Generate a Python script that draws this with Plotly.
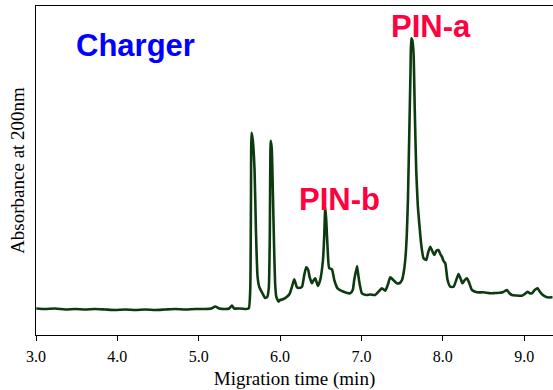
import plotly.graph_objects as go

# Electropherogram of the "Charger" sample: migration time (min) vs absorbance (mAU, 200 nm)
migration_time = [
    3.003, 3.114, 3.237, 3.359, 3.482, 3.605, 3.728, 3.851, 3.974, 4.097,
    4.220, 4.343, 4.466, 4.588, 4.711, 4.834, 4.957, 5.080, 5.154, 5.203,
    5.252, 5.326, 5.375, 5.408, 5.437, 5.510, 5.584, 5.615, 5.633, 5.642,
    5.649, 5.664, 5.686, 5.703, 5.723, 5.744, 5.781, 5.817, 5.842, 5.861,
    5.873, 5.885, 5.897, 5.916, 5.928, 5.940, 5.953, 5.981, 6.002, 6.035,
    6.084, 6.116, 6.146, 6.174, 6.207, 6.235, 6.269, 6.297, 6.321, 6.346,
    6.362, 6.391, 6.414, 6.432, 6.465, 6.493, 6.527, 6.543, 6.555, 6.567,
    6.583, 6.604, 6.637, 6.666, 6.706, 6.780, 6.862, 6.893, 6.911, 6.945,
    6.961, 6.976, 7.006, 7.059, 7.108, 7.169, 7.206, 7.252, 7.292, 7.323,
    7.354, 7.391, 7.436, 7.471, 7.498, 7.520, 7.538, 7.557, 7.571, 7.591,
    7.603, 7.612, 7.624, 7.640, 7.655, 7.673, 7.692, 7.714, 7.735, 7.763,
    7.796, 7.821, 7.845, 7.870, 7.895, 7.919, 7.947, 7.968, 7.989, 8.009,
    8.030, 8.058, 8.091, 8.132, 8.165, 8.193, 8.220, 8.242, 8.269, 8.296,
    8.325, 8.358, 8.419, 8.500, 8.583, 8.644, 8.706, 8.743, 8.788, 8.816,
    8.849, 8.902, 8.972, 9.007, 9.041, 9.068, 9.095, 9.130, 9.164, 9.191,
    9.218, 9.280, 9.348,
]
absorbance = [
    2.45, 2.40, 2.45, 2.35, 2.40, 2.35, 2.40, 2.35, 2.30, 2.35,
    2.30, 2.35, 2.30, 2.35, 2.40, 2.35, 2.40, 2.40, 2.45, 2.65,
    2.45, 2.40, 2.45, 2.75, 2.45, 2.45, 2.40, 2.45, 4.30, 13.30,
    20.03, 19.30, 16.30, 10.30, 5.63, 4.60, 4.00, 3.50, 3.60, 4.50,
    9.30, 19.23, 18.50, 12.30, 8.00, 4.80, 3.63, 3.13, 3.30, 3.37,
    3.63, 3.90, 4.63, 5.37, 4.57, 4.50, 4.63, 5.80, 6.57, 6.30,
    5.63, 4.97, 5.30, 5.47, 4.70, 5.30, 7.30, 9.80, 12.63, 11.30,
    8.63, 6.47, 6.37, 5.30, 4.47, 4.13, 3.97, 4.30, 5.30, 6.70,
    5.80, 4.97, 3.97, 3.80, 3.85, 3.80, 4.10, 4.47, 4.23, 4.80,
    5.57, 5.30, 4.97, 5.00, 5.30, 6.10, 7.30, 9.80, 13.30, 21.30,
    26.30, 29.47, 29.30, 27.97, 22.30, 16.30, 12.80, 10.63, 8.80, 7.47,
    7.30, 8.10, 8.63, 8.20, 7.80, 8.20, 8.30, 7.90, 7.63, 7.20,
    6.97, 5.30, 4.63, 4.63, 5.30, 5.90, 5.40, 4.97, 5.30, 5.47,
    5.00, 4.30, 4.07, 4.07, 3.97, 4.00, 4.03, 4.10, 4.30, 4.00,
    3.80, 3.75, 3.73, 3.90, 4.13, 3.97, 3.97, 4.30, 4.47, 4.15,
    3.87, 3.57, 3.57,
]

tick_values = [3.0, 4.0, 5.0, 6.0, 7.0, 8.0, 9.0]
tick_labels = ["3.0", "4.0", "5.0", "6.0", "7.0", "8.0", "9.0"]

# Peak labels: (text, time, absorbance, colour)
peak_labels = [
    ("Charger", 4.220, 28.8, "#0000ff"),
    ("PIN-a", 7.858, 30.65, "#ff0040"),
    ("PIN-b", 6.727, 13.4, "#ff0040"),
]

fig = go.Figure()
fig.add_trace(go.Scatter(
    x=migration_time,
    y=absorbance,
    mode="lines",
    line=dict(color="#0d3a0f", width=2.6, shape="spline", smoothing=0.5),
    hoverinfo="x+y",
    showlegend=False,
))

for text, tx, ty, color in peak_labels:
    fig.add_annotation(
        x=tx, y=ty, xref="x", yref="y",
        text=f"<b>{text}</b>",
        showarrow=False,
        font=dict(family="Liberation Sans, Arial, sans-serif", size=31, color=color),
        xanchor="center", yanchor="middle",
    )

serif = "Liberation Serif, Times New Roman, serif"
fig.update_layout(
    width=553, height=390,
    margin=dict(l=36, r=0, t=6, b=55),
    paper_bgcolor="white",
    plot_bgcolor="white",
    showlegend=False,
    xaxis=dict(
        range=[3.0, 9.354],
        tickvals=tick_values,
        ticktext=tick_labels,
        ticks="outside", ticklen=5, tickwidth=1, tickcolor="black",
        ticklabelstandoff=2,
        showline=True, linecolor="black", linewidth=1, mirror=True,
        showgrid=False, zeroline=False,
        tickfont=dict(family=serif, size=16, color="black"),
        title=dict(text="Migration time (min)", font=dict(family=serif, size=19, color="black"), standoff=7),
    ),
    yaxis=dict(
        range=[-0.2, 32.7],
        showticklabels=False,
        ticks="",
        showline=True, linecolor="black", linewidth=1,
        showgrid=False, zeroline=False,
        title=dict(text="Absorbance at 200nm", font=dict(family=serif, size=19, color="black"), standoff=5),
    ),
)

fig.write_html("out.html")
